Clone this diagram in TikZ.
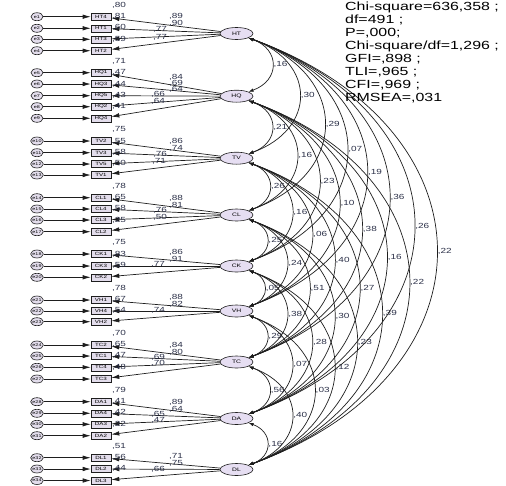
\documentclass[tikz,border=0pt]{standalone}
\usepackage{fontspec}
\setmainfont{Liberation Sans}
\newfontfamily\amosfont[FakeStretch=1.35]{Liberation Sans}
\usepackage{tikz}
\usetikzlibrary{arrows.meta, shapes.geometric}
\definecolor{alatent}{HTML}{E6DEF2}
\definecolor{abox}{HTML}{E3DDEC}
\definecolor{aline}{HTML}{1E1E1E}
\definecolor{alabel}{HTML}{2B3048}
\tikzset{
  latent/.style={ellipse, draw=aline, fill=alatent, line width=0.6pt,
                 minimum width=33pt, minimum height=12pt, inner sep=0pt,
                 font=\amosfont\fontsize{5}{6}\selectfont},
  obsbox/.style={rectangle, draw=aline, fill=abox, line width=0.6pt,
                 minimum width=20pt, minimum height=7pt, inner sep=0pt,
                 font=\amosfont\fontsize{4.6}{5}\selectfont},
  errnode/.style={ellipse, draw=aline, fill=abox, line width=0.6pt,
                  minimum width=12pt, minimum height=8pt, inner sep=0pt,
                  font=\amosfont\fontsize{4}{5}\selectfont},
  arr/.style={-{Latex[length=8pt,width=4.5pt]}, line width=0.7pt, aline},
  cov/.style={{Latex[length=5pt,width=3.5pt]}-{Latex[length=5pt,width=3.5pt]},
              line width=0.7pt, aline, bend left=70, looseness=1.6},
  val/.style={font=\amosfont\fontsize{7.4}{8}\selectfont, text=alabel, inner sep=0pt},
  fitstat/.style={font=\amosfont\fontsize{11.8}{13.1}\selectfont, align=left, inner sep=0pt},
}
\begin{document}
\begin{tikzpicture}[x=1pt, y=-1pt]
  \useasboundingbox (0,0) rectangle (506,485);

  \node[latent] (HT) at (236.5,33.5) {HT};
  \node[latent] (HQ) at (236.5,96.2) {HQ};
  \node[latent] (TV) at (236.5,158.2) {TV};
  \node[latent] (CL) at (236.5,215) {CL};
  \node[latent] (CK) at (236.5,266) {CK};
  \node[latent] (VH) at (236.5,311) {VH};
  \node[latent] (TC) at (236.5,362) {TC};
  \node[latent] (DA) at (236.5,418.5) {DA};
  \node[latent] (DL) at (236.5,469.5) {DL};

  \foreach \n/\y/\f/\r/\v/\lx/\ly [count=\i] in {
      HT4/16.7/HT/80/89/176/16, HT1/28.3/HT/81/90/176/23,
      HT3/39.3/HT/60/77/160/29, HT2/50.7/HT/59/77/160/37,
      HQ1/72.7/HQ/71/84/176/77, HQ3/84/HQ/47/69/176/83,
      HQ5/95.7/HQ/44/64/176/89, HQ2/106.7/HQ/43/66/158/94,
      HQ4/118.3/HQ/41/64/158/101,
      TV2/141/TV/75/86/176/141, TV3/152.7/TV/55/74/176/148,
      TV5/164/TV/58/76/160/154, TV1/175/TV/50/71/159/161,
      CL1/197.7/CL/78/88/176/198, CL4/209/CL/65/81/176/205,
      CL3/220/CL/58/76/160/210, CL2/231.7/CL/25/50/160/217,
      CK1/254/CK/75/86/176/252, CK3/266/CK/83/91/176/259,
      CK2/277.3/CK/59/77/158/264,
      VH1/300/VH/78/88/176/297, VH4/311/VH/67/82/176/304,
      VH2/321.7/VH/54/74/158/310,
      TC2/345/TC/70/84/176/345, TC1/356/TC/65/80/176/352,
      TC4/367.3/TC/47/69/158/357, TC3/379/TC/48/70/158/363,
      DA1/401.7/DA/79/89/176/402, DA4/413.3/DA/41/64/176/409,
      DA3/424.3/DA/42/65/158/414, DA2/435.7/DA/22/47/158/420,
      DL1/457.7/DL/51/71/176/456, DL2/469/DL/56/75/176/463,
      DL3/480.5/DL/44/66/158/469} {
    \node[obsbox] (\n) at (101,\y) {\n};
    \node[errnode] (e\i) at (37,\y) {e\i};
    \node[val] (r\n) at (119,\y-11.7) {,\r};
    \node[val] (w\n) at (\lx,\ly) {,\v};
    \draw[arr] (e\i) -- (\n);
    \draw[arr] (\f) -- (\n);
  }

  \foreach \a/\b/\v in {
      HT/HQ/16, HQ/TV/21, TV/CL/26, CL/CK/25, CK/VH/05, VH/TC/29, TC/DA/56, DA/DL/16,
      HT/TV/30, HQ/CL/16, TV/CK/16, CL/VH/24, CK/TC/38, VH/DA/07, TC/DL/40,
      HT/CL/29, HQ/CK/23, TV/VH/06, CL/TC/51, CK/DA/28, VH/DL/03,
      HT/CK/07, HQ/VH/10, TV/TC/40, CL/DA/30, CK/DL/12,
      HT/VH/19, HQ/TC/38, TV/DA/27, CL/DL/23,
      HT/TC/36, HQ/DA/16, TV/DL/39,
      HT/DA/26, HQ/DL/22,
      HT/DL/22}
    \draw[cov] (\a) to node[val, anchor=west, xshift=1pt] (c\a\b) {,\v} (\b);

  \node[fitstat, anchor=north west] (fit) at (345,1.5) {Chi-square=636,358 ;\\df=491 ;\\P=,000;\\Chi-square/df=1,296 ;\\GFI=,898 ;\\TLI=,965 ;\\CFI=,969 ;\\RMSEA=,031};
\end{tikzpicture}
\end{document}
